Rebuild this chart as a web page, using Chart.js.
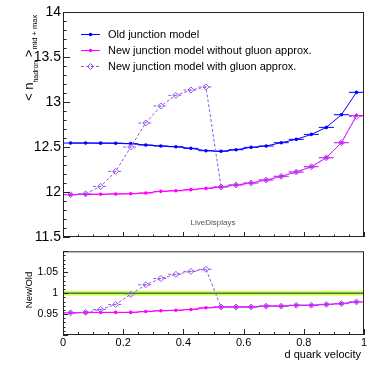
<!DOCTYPE html>
<html>
<head>
<meta charset="utf-8">
<script src="https://cdn.jsdelivr.net/npm/chart.js@4.4.1/dist/chart.umd.min.js"></script>
<style>
  body { margin: 0; background: #fff; }
  #wrap { position: relative; width: 374px; height: 367px; }
  canvas { position: absolute; left: 0; }
</style>
</head>
<body>
<div id="wrap">
  <canvas id="topChart" width="374" height="250" style="top:0px"></canvas>
  <canvas id="ratioChart" width="374" height="127" style="top:240px"></canvas>
</div>
<script>
// bin centres of d quark velocity
const velocity = [0.025, 0.075, 0.125, 0.175, 0.225, 0.275, 0.325, 0.375, 0.425, 0.475,
                  0.525, 0.575, 0.625, 0.675, 0.725, 0.775, 0.825, 0.875, 0.925, 0.975];
const binHalfWidth = 0.025;

// <n_hadron> mid + max
const oldJunction = [12.544, 12.544, 12.543, 12.542, 12.537, 12.522, 12.511, 12.503, 12.485, 12.459,
                     12.452, 12.470, 12.496, 12.511, 12.548, 12.585, 12.640, 12.718, 12.859, 13.107];
const newNoGluon  = [11.970, 11.974, 11.975, 11.978, 11.981, 11.989, 12.007, 12.014, 12.026, 12.040,
                     12.056, 12.078, 12.100, 12.133, 12.174, 12.222, 12.281, 12.381, 12.548, 12.850];
const newGluon    = [11.970, 11.980, 12.062, 12.229, 12.500, 12.767, 12.956, 13.074, 13.133, 13.167,
                     12.056, 12.078, 12.100, 12.133, 12.174, 12.222, 12.281, 12.381, 12.548, 12.840];

// New/Old
const ratioNoGluon = [0.953, 0.9535, 0.954, 0.954, 0.954, 0.956, 0.958, 0.959, 0.961, 0.965,
                      0.967, 0.967, 0.967, 0.969, 0.969, 0.971, 0.971, 0.973, 0.975, 0.979];
const ratioGluon   = [0.953, 0.954, 0.961, 0.973, 0.997, 1.020, 1.035, 1.045, 1.052, 1.057,
                       0.967, 0.967, 0.967, 0.969, 0.969, 0.971, 0.971, 0.973, 0.975, 0.979];
const unityX = [0, 1];
const unityY = [1, 1];

const seriesLabels = ["Old junction model", "New junction model without gluon approx.", "New junction model with gluon approx."];
const topTickLabels = [11.5, 12, 12.5, 13, 13.5, 14];
const ratioTickLabels = [0.95, 1, 1.05];
const velocityTickLabels = [0, 0.2, 0.4, 0.6, 0.8, 1];

const FONT = "'Liberation Sans', Arial, Helvetica, sans-serif";
const BLUE = '#0000ff', MAGENTA = '#ff00ff', VIOLET = '#9955ee';

function pts(xs, ys) { return xs.map((x, i) => ({ x: x, y: ys[i] })); }

function drawMarker(ctx, style, x, y, r, color) {
  ctx.beginPath();
  if (style === 'rectRot') {
    ctx.moveTo(x, y - r); ctx.lineTo(x + r, y); ctx.lineTo(x, y + r); ctx.lineTo(x - r, y); ctx.closePath();
    ctx.setLineDash([]); ctx.lineWidth = 1; ctx.strokeStyle = color; ctx.stroke();
  } else {
    ctx.arc(x, y, r, 0, Math.PI * 2); ctx.fillStyle = color; ctx.fill();
  }
}

const rootStyle = {
  id: 'rootStyle',
  beforeDatasetsDraw(chart) {
    // horizontal (bin width) error bars
    const ctx = chart.ctx, xs = chart.scales.x, ys = chart.scales.y, a = chart.chartArea;
    ctx.save();
    ctx.beginPath(); ctx.rect(a.left, a.top, a.width, a.height); ctx.clip();
    chart.data.datasets.forEach(ds => {
      if (!ds.xErr) return;
      ctx.strokeStyle = ds.borderColor; ctx.lineWidth = 1;
      ctx.setLineDash(ds.borderDash || []);
      ds.data.forEach(p => {
        const y = ys.getPixelForValue(p.y);
        ctx.beginPath();
        ctx.moveTo(xs.getPixelForValue(p.x - ds.xErr), y);
        ctx.lineTo(xs.getPixelForValue(p.x + ds.xErr), y);
        ctx.stroke();
      });
    });
    ctx.restore();
  },
  afterDraw(chart) {
    const o = chart.options.plugins.rootStyle;
    const ctx = chart.ctx, a = chart.chartArea;
    ctx.save();
    ctx.setLineDash([]);
    ctx.strokeStyle = '#222'; ctx.lineWidth = 1;
    ctx.strokeRect(a.left + 0.5, a.top + 0.5, a.width - 1, a.height - 1);
    // inward ticks
    const ys = chart.scales.y, xs = chart.scales.x;
    const yt = o.yTicks, xt = o.xTicks;
    let n = Math.round((yt.max - yt.min) / yt.step);
    for (let k = 0; k <= n; k++) {
      const py = Math.round(ys.getPixelForValue(yt.min + k * yt.step)) + 0.5;
      const len = k % yt.every === 0 ? yt.major : yt.minor;
      ctx.beginPath(); ctx.moveTo(a.left, py); ctx.lineTo(a.left + len, py); ctx.stroke();
    }
    n = Math.round((xt.max - xt.min) / xt.step);
    for (let k = 0; k <= n; k++) {
      const px = Math.round(xs.getPixelForValue(xt.min + k * xt.step)) + 0.5;
      const len = k % xt.every === 0 ? xt.major : xt.minor;
      ctx.beginPath(); ctx.moveTo(px, a.bottom); ctx.lineTo(px, a.bottom - len); ctx.stroke();
    }
    // legend
    if (o.legend) {
      const lg = o.legend;
      chart.data.datasets.forEach((ds, i) => {
        if (!ds.label) return;
        const y = lg.y + i * lg.gap;
        ctx.strokeStyle = ds.borderColor; ctx.lineWidth = 1;
        ctx.setLineDash(ds.borderDash || []);
        ctx.beginPath(); ctx.moveTo(lg.x, y + 0.5); ctx.lineTo(lg.x + 19, y + 0.5); ctx.stroke();
        drawMarker(ctx, ds.pointStyle, lg.x + 9.5, y + 0.5, ds.pointRadius, ds.borderColor);
        ctx.fillStyle = '#000'; ctx.font = '11px ' + FONT;
        ctx.textAlign = 'left'; ctx.textBaseline = 'middle';
        ctx.fillText(ds.label, lg.x + 27, y + 1);
      });
    }
    // free texts
    (o.texts || []).forEach(t => {
      ctx.save();
      ctx.translate(t.x, t.y);
      if (t.rotate) ctx.rotate(t.rotate);
      ctx.textBaseline = 'alphabetic'; ctx.textAlign = t.align || 'left';
      let cx = 0;
      t.parts.forEach(p => {
        ctx.font = p.size + 'px ' + FONT; ctx.fillStyle = t.color || '#000';
        ctx.fillText(p.t, cx, p.dy || 0);
        cx += ctx.measureText(p.t).width;
      });
      ctx.restore();
    });
    ctx.restore();
  }
};

const fmt = v => String(Math.round(v * 1000) / 1000);

new Chart(document.getElementById('topChart'), {
  type: 'line',
  data: {
    datasets: [
      { label: seriesLabels[0], data: pts(velocity, oldJunction), borderColor: BLUE, backgroundColor: BLUE,
        borderWidth: 1, pointStyle: 'circle', pointRadius: 1.8, pointBackgroundColor: BLUE, pointBorderWidth: 0,
        xErr: binHalfWidth, order: 3 },
      { label: seriesLabels[1], data: pts(velocity, newNoGluon), borderColor: MAGENTA, backgroundColor: MAGENTA,
        borderWidth: 1, pointStyle: 'circle', pointRadius: 1.8, pointBackgroundColor: MAGENTA, pointBorderWidth: 0,
        xErr: binHalfWidth, order: 2 },
      { label: seriesLabels[2], data: pts(velocity, newGluon), borderColor: VIOLET, backgroundColor: 'rgba(0,0,0,0)',
        borderWidth: 1, borderDash: [3, 2], pointStyle: 'rectRot', pointRadius: 3,
        pointBackgroundColor: 'rgba(0,0,0,0)', pointBorderColor: VIOLET, pointBorderWidth: 1,
        xErr: binHalfWidth, order: 1 }
    ]
  },
  options: {
    responsive: false, animation: false, events: [],
    layout: { padding: { top: 12, right: 10, bottom: 13, left: 0 } },
    scales: {
      x: { type: 'linear', min: 0, max: 1, display: false },
      y: {
        min: 11.5, max: 14,
        afterBuildTicks: s => { s.ticks = topTickLabels.map(v => ({ value: v })); },
        afterFit: s => { s.width = 63; },
        grid: { display: false, drawTicks: false }, border: { display: false },
        ticks: { padding: 2, color: '#000', font: { family: FONT, size: 14 }, callback: fmt }
      }
    },
    plugins: {
      legend: { display: false }, tooltip: { enabled: false },
      rootStyle: {
        yTicks: { min: 11.5, max: 14, step: 0.1, every: 5, major: 7, minor: 3.5 },
        xTicks: { min: 0, max: 1, step: 0.05, every: 4, major: 5, minor: 2.5 },
        legend: { x: 81, y: 34, gap: 16 },
        texts: [
          { x: 33, y: 101, rotate: -Math.PI / 2, parts: [
            { t: '< n', size: 13 }, { t: 'hadron', size: 7, dy: 5 },
            { t: ' >', size: 13 }, { t: 'mid + max', size: 7.5, dy: 4 } ] },
          { x: 213, y: 225, align: 'center', color: '#555', parts: [{ t: 'LiveDisplays', size: 8 }] }
        ]
      }
    }
  },
  plugins: [rootStyle]
});

new Chart(document.getElementById('ratioChart'), {
  type: 'line',
  data: {
    datasets: [
      { data: pts(unityX, unityY), borderColor: 'rgba(222,245,70,0.85)', borderWidth: 5, pointRadius: 0, order: 6 },
      { data: pts(unityX, unityY), borderColor: '#2b8a2b', borderWidth: 1.5, pointRadius: 0, order: 5 },
      { data: pts(velocity, ratioNoGluon), borderColor: MAGENTA, backgroundColor: MAGENTA,
        borderWidth: 1, pointStyle: 'circle', pointRadius: 1.8, pointBackgroundColor: MAGENTA, pointBorderWidth: 0,
        xErr: binHalfWidth, order: 2 },
      { data: pts(velocity, ratioGluon), borderColor: VIOLET, backgroundColor: 'rgba(0,0,0,0)',
        borderWidth: 1, borderDash: [3, 2], pointStyle: 'rectRot', pointRadius: 3,
        pointBackgroundColor: 'rgba(0,0,0,0)', pointBorderColor: VIOLET, pointBorderWidth: 1,
        xErr: binHalfWidth, order: 1 }
    ]
  },
  options: {
    responsive: false, animation: false, events: [],
    layout: { padding: { top: 9, right: 10, bottom: 0, left: 0 } },
    scales: {
      x: {
        type: 'linear', min: 0, max: 1,
        afterBuildTicks: s => { s.ticks = velocityTickLabels.map(v => ({ value: v })); },
        afterFit: s => { s.height = 32; },
        grid: { display: false, drawTicks: false }, border: { display: false },
        ticks: { padding: 1, color: '#000', maxRotation: 0, font: { family: FONT, size: 11 }, callback: fmt }
      },
      y: {
        min: 0.9, max: 1.1,
        afterBuildTicks: s => { s.ticks = ratioTickLabels.map(v => ({ value: v })); },
        afterFit: s => { s.width = 63; },
        grid: { display: false, drawTicks: false }, border: { display: false },
        ticks: { padding: 5, color: '#000', font: { family: FONT, size: 10.5 }, callback: fmt }
      }
    },
    plugins: {
      legend: { display: false }, tooltip: { enabled: false },
      rootStyle: {
        yTicks: { min: 0.9, max: 1.1, step: 0.01, every: 5, major: 5, minor: 2.5 },
        xTicks: { min: 0, max: 1, step: 0.05, every: 4, major: 6, minor: 3 },
        texts: [
          { x: 32, y: 50, rotate: -Math.PI / 2, align: 'center', parts: [{ t: 'New/Old', size: 9.5 }] },
          { x: 361, y: 118, align: 'right', parts: [{ t: 'd quark velocity', size: 11 }] }
        ]
      }
    }
  },
  plugins: [rootStyle]
});
</script>
</body>
</html>
